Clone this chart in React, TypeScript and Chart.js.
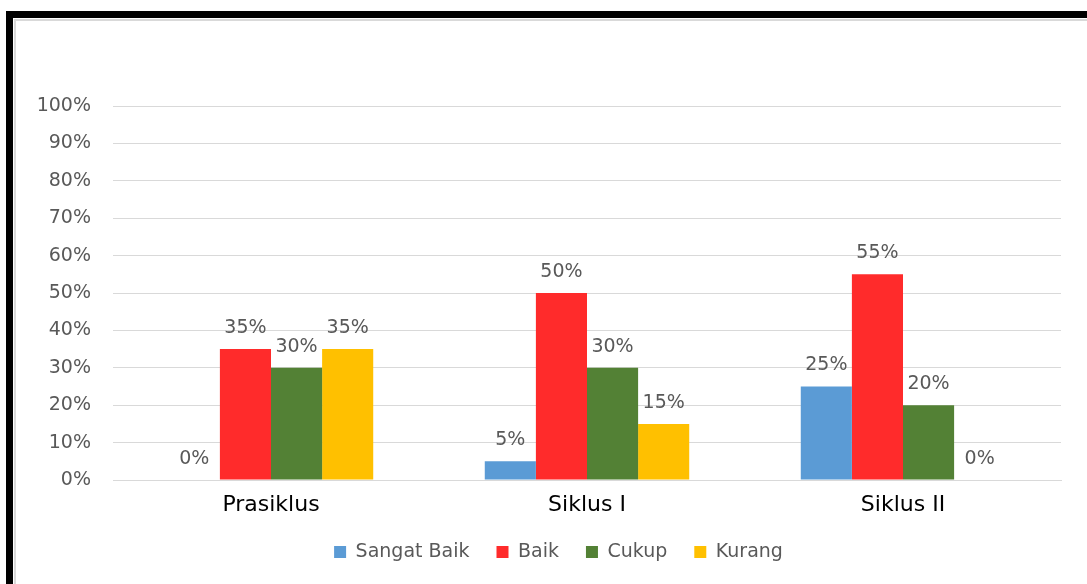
import React, { useEffect, useRef } from "react";
import { Chart, registerables } from "chart.js";

Chart.register(...registerables);

const categories = ["Prasiklus", "Siklus I", "Siklus II"];
const seriesNames = ["Sangat Baik", "Baik", "Cukup", "Kurang"];
const sangatBaik = [0, 5, 25];
const baik = [35, 50, 55];
const cukup = [30, 30, 20];
const kurang = [35, 15, 0];
const yTicks = [0, 10, 20, 30, 40, 50, 60, 70, 80, 90, 100];

const colors = ["#5B9BD5", "#FF2B2B", "#538135", "#FFC000"];
const FONT = "'DejaVu Sans', sans-serif";

const dataLabelPlugin = {
  id: "dataLabels",
  afterLayout(chart: any) {
    if (chart.legend) {
      chart.legend.left += 18;
      chart.legend.right += 18;
    }
  },
  afterDatasetsDraw(chart: any) {
    const ctx = chart.ctx;
    ctx.save();
    ctx.font = `19px ${FONT}`;
    ctx.fillStyle = "#595959";
    ctx.textAlign = "center";
    ctx.textBaseline = "middle";
    chart.data.datasets.forEach((ds: any, i: number) => {
      const meta = chart.getDatasetMeta(i);
      meta.data.forEach((el: any, j: number) => {
        ctx.fillText(ds.data[j] + "%", el.x, el.y - 21);
      });
    });
    ctx.restore();
  },
};

export default function App() {
  const ref = useRef<HTMLCanvasElement>(null);
  useEffect(() => {
    if (!ref.current) return;
    const all = [sangatBaik, baik, cukup, kurang];
    const chart = new Chart(ref.current, {
      type: "bar",
      data: {
        labels: categories,
        datasets: seriesNames.map((n, i) => ({
          label: n,
          data: all[i],
          backgroundColor: colors[i],
          borderWidth: 0,
          categoryPercentage: 0.647,
          barPercentage: 1,
        })),
      },
      options: {
        animation: false,
        responsive: false,
        maintainAspectRatio: false,
        layout: { padding: { left: 20, right: 26, top: 106, bottom: 12.5 } },
        plugins: {
          tooltip: { enabled: false },
          legend: {
            position: "bottom",
            labels: {
              boxWidth: 12,
              boxHeight: 12,
              padding: 27,
              color: "#595959",
              font: { family: FONT, size: 19 },
            },
          },
        },
        scales: {
          x: {
            grid: { display: false, drawTicks: false },
            border: { display: true, color: "#d9d9d9", width: 1 },
            ticks: {
              color: "#000000",
              padding: 12,
              font: { family: FONT, size: 22 },
            },
            afterFit: (s: any) => {
              s.height = 35.5;
            },
          },
          y: {
            min: 0,
            max: 100,
            afterBuildTicks: (s: any) => {
              s.ticks = yTicks.map((v) => ({ value: v }));
            },
            grid: { color: "#d9d9d9", drawTicks: false, lineWidth: 1 },
            border: { display: false },
            ticks: {
              color: "#595959",
              padding: 22,
              font: { family: FONT, size: 19 },
              callback: (v: any) => v + "%",
            },
            afterFit: (s: any) => {
              s.width = 93;
            },
          },
        },
      },
      plugins: [dataLabelPlugin],
    });
    return () => chart.destroy();
  }, []);

  return (
    <div
      style={{
        position: "fixed",
        left: 0,
        top: 0,
        width: 1087,
        height: 584,
        background: "#ffffff",
        overflow: "hidden",
      }}
    >
      <div
        style={{
          position: "absolute",
          left: 6,
          top: 11,
          width: 1200,
          height: 700,
          borderTop: "7px solid #000",
          borderLeft: "7px solid #000",
        }}
      />
      <div
        style={{
          position: "absolute",
          left: 14,
          top: 19,
          width: 1200,
          height: 700,
          borderTop: "2px solid #d9d9d9",
          borderLeft: "2px solid #d9d9d9",
        }}
      />
      <canvas
        ref={ref}
        width={1087}
        height={584}
        style={{ position: "absolute", left: 0, top: 0, width: 1087, height: 584 }}
      />
    </div>
  );
}
